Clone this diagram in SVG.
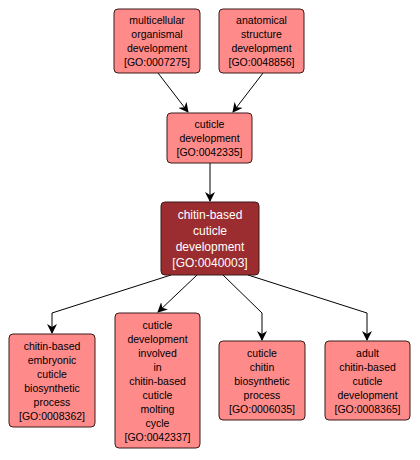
<svg xmlns="http://www.w3.org/2000/svg" width="420" height="460" viewBox="0 0 420 460">
<style>
.n rect{fill:#FF8A8A;stroke:#3a1a1a;stroke-width:1}
.n text{font-family:"Liberation Sans",Arial,sans-serif;font-size:10.5px;fill:#000;text-anchor:middle}
.m rect{fill:#9B2D30;stroke:#3a1a1a;stroke-width:1}
.m text{font-family:"Liberation Sans",Arial,sans-serif;font-size:12px;fill:#fff;text-anchor:middle}
.e{fill:none;stroke:#000;stroke-width:1;marker-end:url(#a)}
</style>
<defs>
<marker id="a" viewBox="0 0 10 10" refX="9" refY="5" markerWidth="10" markerHeight="10" markerUnits="userSpaceOnUse" orient="auto">
<path d="M0,0 L10,5 L0,10 L3,5 Z" fill="#000"/>
</marker>
</defs>
<rect width="420" height="460" fill="#fff"/>
<g id="edges">
<path class="e" d="M158,73 L188,112"/>
<path class="e" d="M263,73 L233,112"/>
<path class="e" d="M210,163 L210,201"/>
<path class="e" d="M171,275 L52,313 L52,333"/>
<path class="e" d="M197,275 L158,312"/>
<path class="e" d="M223,275 L262,313 L262,340"/>
<path class="e" d="M248,275 L367,313 L367,340"/>
</g>
<g id="GO0007275" class="n">
<rect x="114" y="9" width="86" height="64" rx="4"/>
<text x="157" y="24">multicellular</text>
<text x="157" y="38">organismal</text>
<text x="157" y="52">development</text>
<text x="157" y="66">[GO:0007275]</text>
</g>
<g id="GO0048856" class="n">
<rect x="219" y="9" width="85" height="64" rx="4"/>
<text x="261.5" y="24">anatomical</text>
<text x="261.5" y="38">structure</text>
<text x="261.5" y="52">development</text>
<text x="261.5" y="66">[GO:0048856]</text>
</g>
<g id="GO0042335" class="n">
<rect x="167" y="113" width="85" height="50" rx="4"/>
<text x="209.5" y="128">cuticle</text>
<text x="209.5" y="142">development</text>
<text x="209.5" y="156">[GO:0042335]</text>
</g>
<g id="GO0040003" class="m">
<rect x="161" y="202" width="98" height="73" rx="4"/>
<text x="210" y="219">chitin-based</text>
<text x="210" y="235">cuticle</text>
<text x="210" y="251">development</text>
<text x="210" y="267">[GO:0040003]</text>
</g>
<g id="GO0008362" class="n">
<rect x="9" y="334" width="86" height="93" rx="4"/>
<text x="52" y="349.5">chitin-based</text>
<text x="52" y="363.5">embryonic</text>
<text x="52" y="377.5">cuticle</text>
<text x="52" y="391.5">biosynthetic</text>
<text x="52" y="405.5">process</text>
<text x="52" y="419.5">[GO:0008362]</text>
</g>
<g id="GO0042337" class="n">
<rect x="115" y="313" width="85" height="135" rx="4"/>
<text x="157.5" y="328.5">cuticle</text>
<text x="157.5" y="342.5">development</text>
<text x="157.5" y="356.5">involved</text>
<text x="157.5" y="370.5">in</text>
<text x="157.5" y="384.5">chitin-based</text>
<text x="157.5" y="398.5">cuticle</text>
<text x="157.5" y="412.5">molting</text>
<text x="157.5" y="426.5">cycle</text>
<text x="157.5" y="440.5">[GO:0042337]</text>
</g>
<g id="GO0006035" class="n">
<rect x="219" y="341" width="86" height="79" rx="4"/>
<text x="262" y="356.5">cuticle</text>
<text x="262" y="370.5">chitin</text>
<text x="262" y="384.5">biosynthetic</text>
<text x="262" y="398.5">process</text>
<text x="262" y="412.5">[GO:0006035]</text>
</g>
<g id="GO0008365" class="n">
<rect x="325" y="341" width="85" height="79" rx="4"/>
<text x="367.5" y="356.5">adult</text>
<text x="367.5" y="370.5">chitin-based</text>
<text x="367.5" y="384.5">cuticle</text>
<text x="367.5" y="398.5">development</text>
<text x="367.5" y="412.5">[GO:0008365]</text>
</g>
</svg>
